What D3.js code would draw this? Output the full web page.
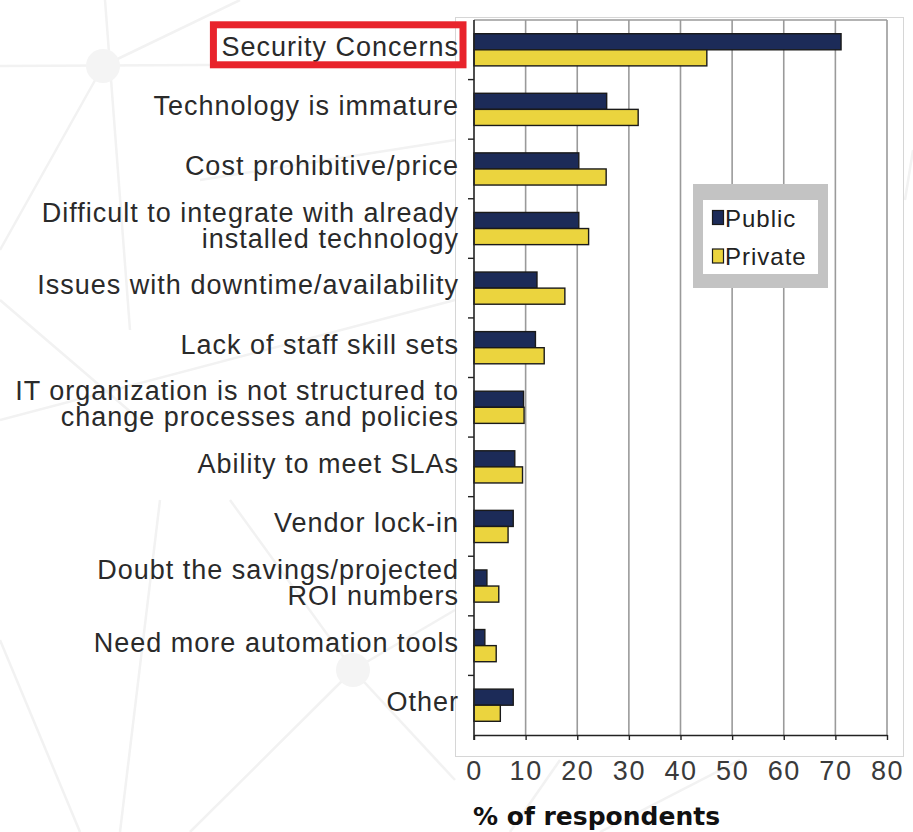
<!DOCTYPE html>
<html>
<head>
<meta charset="utf-8">
<script src="https://cdn.jsdelivr.net/npm/d3@7/dist/d3.min.js"></script>
<style>
  html, body { margin: 0; padding: 0; background: #fff; }
  svg { display: block; }
</style>
</head>
<body>
<svg id="chart" width="913" height="832"></svg>
<script>
const categories = [
  "Security Concerns",
  "Technology is immature",
  "Cost prohibitive/price",
  "Difficult to integrate with already\ninstalled technology",
  "Issues with downtime/availability",
  "Lack of staff skill sets",
  "IT organization is not structured to\nchange processes and policies",
  "Ability to meet SLAs",
  "Vendor lock-in",
  "Doubt the savings/projected\nROI numbers",
  "Need more automation tools",
  "Other"
];
const publicValues  = [71.1, 25.7, 20.3, 20.3, 12.2, 11.9, 9.6, 7.9, 7.6, 2.5, 2.1, 7.6];
const privateValues = [45.1, 31.8, 25.6, 22.2, 17.6, 13.6, 9.7, 9.4, 6.6, 4.8, 4.3, 5.1];
const seriesNames = ["Public", "Private"];
const xTicks = [0, 10, 20, 30, 40, 50, 60, 70, 80];
const xTitle = "% of respondents";

(function () {
const colors = { Public: "#1c2b58", Private: "#ebd43e" };
const svg = d3.select("#chart");

// faint background network decoration
const bg = svg.append("g").attr("stroke", "#f2f2f2").attr("stroke-width", 2.5).attr("fill", "none");
const bgLines = [
  [0, 66, 455, 64], [105, 0, 130, 330], [103, 66, 0, 250], [103, 66, 240, 0],
  [0, 420, 455, 300], [160, 500, 120, 832], [0, 640, 80, 832],
  [353, 670, 230, 500], [353, 670, 190, 832], [353, 670, 455, 610],
  [353, 670, 455, 780], [200, 180, 455, 140], [0, 300, 140, 420], [510, 832, 560, 760],
  [600, 832, 740, 760], [905, 200, 913, 150]
];
bg.selectAll("line").data(bgLines).join("line")
  .attr("x1", d => d[0]).attr("y1", d => d[1]).attr("x2", d => d[2]).attr("y2", d => d[3]);
svg.append("g").attr("fill", "#f4f4f4").selectAll("circle")
  .data([[103, 66], [353, 670]]).join("circle")
  .attr("cx", d => d[0]).attr("cy", d => d[1]).attr("r", 17);

// outer chart box
svg.append("rect").attr("x", 455.5).attr("y", 17.5).attr("width", 448).attr("height", 739)
  .attr("fill", "#fff").attr("stroke", "#d6d6d6").attr("stroke-width", 1);

const pLeft = 474, pRight = 887, pTop = 20, pBottom = 735;
const x = d3.scaleLinear().domain([0, 80]).range([pLeft, pRight]);
const y = d3.scaleBand().domain(categories).range([pTop, pBottom]).paddingInner(0.46).paddingOuter(0.23);
const ySub = d3.scaleBand().domain(seriesNames).range([0, y.bandwidth()]);

// gridlines
svg.append("g").selectAll("line").data(xTicks.slice(1)).join("line")
  .attr("x1", d => x(d)).attr("x2", d => x(d)).attr("y1", pTop).attr("y2", pBottom)
  .attr("stroke", "#9a9a9a").attr("stroke-width", 1.6);
svg.append("line").attr("x1", pLeft).attr("x2", pRight).attr("y1", pTop).attr("y2", pTop)
  .attr("stroke", "#9a9a9a").attr("stroke-width", 1.6);

// bars
const rows = categories.map((c, i) => ({ cat: c, values: [
  { s: "Public", v: publicValues[i] }, { s: "Private", v: privateValues[i] }] }));
const g = svg.append("g").selectAll("g").data(rows).join("g")
  .attr("transform", d => `translate(0,${y(d.cat)})`);
g.selectAll("rect").data(d => d.values).join("rect")
  .attr("x", x(0)).attr("y", d => ySub(d.s))
  .attr("width", d => x(d.v) - x(0)).attr("height", ySub.bandwidth())
  .attr("fill", d => colors[d.s]).attr("stroke", "#1a1a1a").attr("stroke-width", 1.4);

// y axis line and ticks at band boundaries
const gap = (y.step() - y.bandwidth()) / 2;
svg.append("line").attr("x1", pLeft).attr("x2", pLeft).attr("y1", pTop).attr("y2", pBottom + 5)
  .attr("stroke", "#222").attr("stroke-width", 1.6);
svg.append("g").selectAll("line").data(categories.slice(1)).join("line")
  .attr("x1", pLeft - 6).attr("x2", pLeft).attr("y1", d => y(d) - gap).attr("y2", d => y(d) - gap)
  .attr("stroke", "#222").attr("stroke-width", 1.4);

// x axis
const xAxis = svg.append("g").attr("transform", `translate(0,${pBottom})`)
  .call(d3.axisBottom(x).tickValues(xTicks).tickSize(5).tickPadding(21).tickSizeOuter(0));
xAxis.select(".domain").attr("stroke", "#222").attr("stroke-width", 1.6);
xAxis.selectAll(".tick line").attr("stroke", "#222").attr("stroke-width", 1.4);
xAxis.selectAll(".tick text").attr("font-family", "Liberation Sans, Arial, sans-serif")
  .attr("font-size", 27).attr("fill", "#3a3a3a").attr("letter-spacing", 1.5);

svg.append("text").attr("x", 473).attr("y", 825).text(xTitle)
  .attr("font-family", "DejaVu Sans, Verdana, sans-serif").attr("font-weight", "bold")
  .attr("font-size", 25).attr("fill", "#111");

// category labels
const lineH = 26;
const labels = svg.append("g").attr("font-family", "Liberation Sans, Arial, sans-serif")
  .attr("font-size", 27).attr("letter-spacing", 1).attr("fill", "#2a2a2a").attr("text-anchor", "end");
const labelNodes = labels.selectAll("text").data(categories).join("text")
  .attr("x", 459)
  .each(function(d) {
    const lines = d.split("\n");
    const cy = y(d) + y.bandwidth() / 2 - 4;
    const t = d3.select(this);
    const first = cy + 10 - (lines.length - 1) * lineH / 2;
    lines.forEach((ln, k) => t.append("tspan").attr("x", 459).attr("y", first + k * lineH).text(ln));
  });

// red highlight box around first label
const bb = labelNodes.filter((d, i) => i === 0).node().getBBox();
svg.append("rect").attr("x", bb.x - 8).attr("y", bb.y - 7)
  .attr("width", bb.width + 12).attr("height", bb.height + 10)
  .attr("fill", "none").attr("stroke", "#e8232b").attr("stroke-width", 7);

// legend
const lg = svg.append("g");
lg.append("rect").attr("x", 693).attr("y", 184).attr("width", 135).attr("height", 104).attr("fill", "#c3c3c3");
lg.append("rect").attr("x", 703).attr("y", 200).attr("width", 115).attr("height", 74).attr("fill", "#fff");
const li = lg.selectAll("g.item").data(seriesNames).join("g").attr("class", "item")
  .attr("transform", (d, i) => `translate(712,${210 + i * 38.5})`);
li.append("rect").attr("x", 0.5).attr("y", 0.5).attr("width", 11).attr("height", 14)
  .attr("fill", d => colors[d]).attr("stroke", "#1a1a1a").attr("stroke-width", 1.2);
li.append("text").attr("x", 13).attr("y", 16.5).text(d => d)
  .attr("font-family", "Liberation Sans, Arial, sans-serif").attr("font-size", 24)
  .attr("letter-spacing", 1).attr("fill", "#222");
})();
</script>
</body>
</html>
